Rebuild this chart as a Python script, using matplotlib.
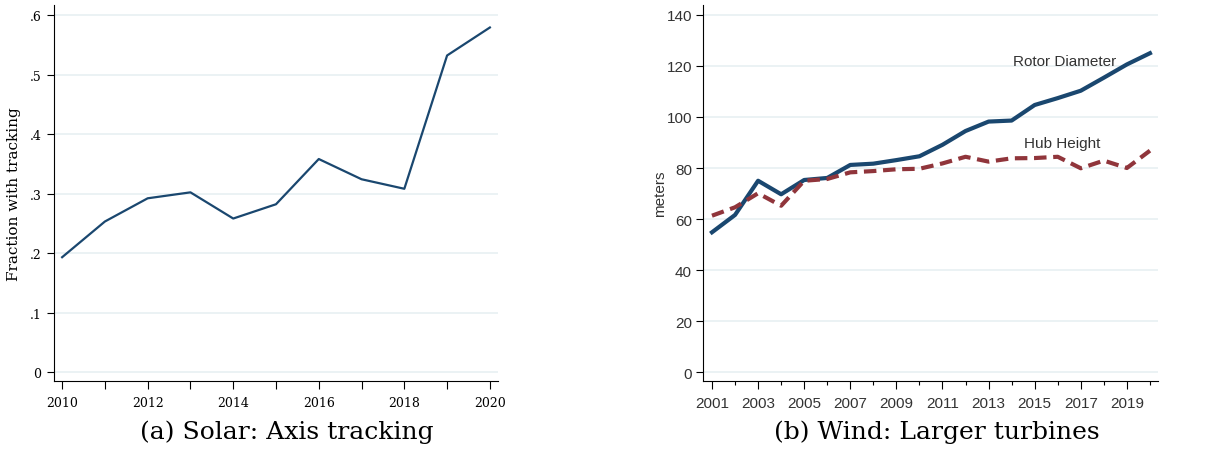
import matplotlib
matplotlib.use("Agg")
import matplotlib.pyplot as plt
from matplotlib.ticker import FixedLocator

solar_years = list(range(2010, 2021))
solar_tracking = [0.193, 0.253, 0.292, 0.302, 0.258, 0.282, 0.358, 0.324, 0.308, 0.532, 0.579]
solar_yticks = [0, 0.1, 0.2, 0.3, 0.4, 0.5, 0.6]
solar_yticklabels = ["0", ".1", ".2", ".3", ".4", ".5", ".6"]

wind_years = list(range(2001, 2021))
rotor_diameter = [54.8, 61.6, 75.0, 69.7, 75.3, 76.1, 81.2, 81.7, 83.1, 84.6,
                  89.1, 94.5, 98.2, 98.6, 104.7, 107.4, 110.3, 115.4, 120.6, 125.0]
hub_height = [61.3, 64.6, 70.1, 65.2, 75.0, 75.7, 78.3, 78.8, 79.5, 79.7,
              81.8, 84.4, 82.5, 83.8, 83.9, 84.4, 79.9, 82.9, 80.0, 86.8]
wind_yticks = [0, 20, 40, 60, 80, 100, 120, 140]

W, H = 1225, 477
fig = plt.figure(figsize=(W / 100, H / 100), dpi=100)

def ax_rect(l, t, r, b):
    return [l / W, 1 - b / H, (r - l) / W, (b - t) / H]

grid_c = "#e8f0f2"
navy = "#1a476f"
maroon = "#90353b"

# ---- Left panel ----
ax1 = fig.add_axes(ax_rect(54, 6, 498, 382))
ax1.plot(solar_years, solar_tracking, color=navy, lw=1.6)
ax1.set_xlim(2009.81, 2020.19)
ax1.set_ylim(-0.015, 0.6168)
ax1.set_yticks(solar_yticks)
ax1.set_yticklabels(solar_yticklabels)
ax1.set_xticks(list(range(2010, 2021, 2)))
ax1.xaxis.set_minor_locator(FixedLocator(list(range(2011, 2021, 2))))
for s in ["top", "right"]:
    ax1.spines[s].set_visible(False)
ax1.grid(axis="y", color=grid_c, lw=1.2)
ax1.set_axisbelow(True)
ax1.tick_params(axis="y", which="both", direction="out", length=5, width=0.8, pad=4)
ax1.tick_params(axis="x", which="both", direction="out", length=6, width=0.8, pad=5)
for lab in ax1.get_xticklabels() + ax1.get_yticklabels():
    lab.set_fontfamily("DejaVu Serif")
    lab.set_fontsize(9)
ax1.set_ylabel("Fraction with tracking", fontfamily="DejaVu Serif", fontsize=11)
ax1.yaxis.set_label_coords(-0.075, 0.5)

# ---- Right panel ----
ax2 = fig.add_axes(ax_rect(703, 6, 1158, 382))
ax2.plot(wind_years, rotor_diameter, color=navy, lw=3)
ax2.plot(wind_years, hub_height, color=maroon, lw=3, dashes=(3, 1.6))
ax2.set_xlim(2000.61, 2020.35)
ax2.set_ylim(-3.5, 143.9)
ax2.set_yticks(wind_yticks)
ax2.set_xticks(list(range(2001, 2021, 2)))
ax2.xaxis.set_minor_locator(FixedLocator(list(range(2002, 2021, 2))))
for s in ["top", "right"]:
    ax2.spines[s].set_visible(False)
ax2.grid(axis="y", color=grid_c, lw=1.2)
ax2.set_axisbelow(True)
ax2.tick_params(axis="y", which="both", direction="out", length=5, width=0.8,
                labelsize=11, pad=3)
ax2.tick_params(axis="x", which="major", direction="out", length=6, width=0.8,
                labelsize=11, pad=5)
ax2.tick_params(axis="x", which="minor", direction="out", length=3, width=0.8)
for lab in ax2.get_xticklabels() + ax2.get_yticklabels():
    lab.set_fontfamily("Liberation Sans")
    lab.set_color("#333333")
ax2.set_ylabel("meters", fontfamily="Liberation Sans", fontsize=11, color="#333333")
ax2.yaxis.set_label_coords(-0.079, 0.5)
ax2.text(2016.3, 122.0, "Rotor Diameter", fontsize=11, fontfamily="Liberation Sans",
         color="#333333", ha="center", va="center")
ax2.text(2016.2, 89.8, "Hub Height", fontsize=11, fontfamily="Liberation Sans",
         color="#333333", ha="center", va="center")

# ---- Captions ----
fig.text(287 / W, 1 - 432 / H, "(a) Solar: Axis tracking", ha="center", va="center",
         fontsize=18, fontfamily="DejaVu Serif")
fig.text(937 / W, 1 - 432 / H, "(b) Wind: Larger turbines", ha="center", va="center",
         fontsize=18, fontfamily="DejaVu Serif")

fig.savefig("out.png", dpi=100)
